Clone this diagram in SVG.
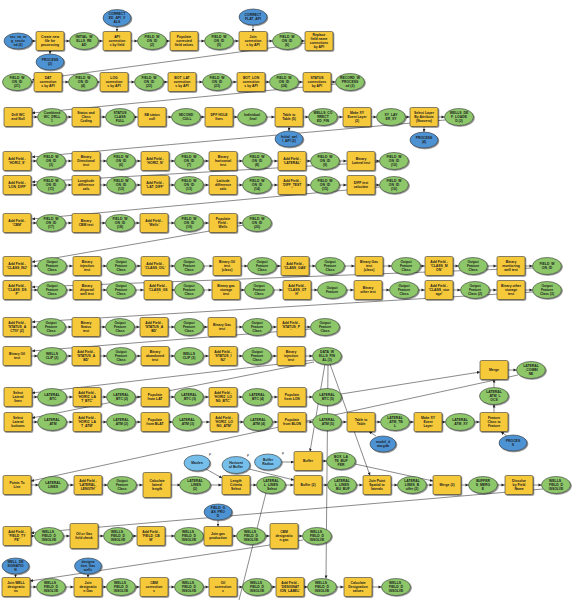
<svg xmlns="http://www.w3.org/2000/svg" width="574" height="600" viewBox="0 0 574 600">
<defs>
<filter id="s" x="-20%" y="-30%" width="150%" height="170%"><feDropShadow dx="0.9" dy="0.9" stdDeviation="0.45" flood-color="#000" flood-opacity="0.5"/></filter>
<marker id="a" markerUnits="userSpaceOnUse" markerWidth="4" markerHeight="3" refX="3" refY="1.5" orient="auto"><path d="M0,0L3,1.5L0,3z" fill="#222"/></marker>
<marker id="m" markerUnits="userSpaceOnUse" markerWidth="4" markerHeight="3" refX="17.5" refY="1.5" orient="auto" overflow="visible"><path d="M0,0L3,1.5L0,3z" fill="#222"/></marker>
</defs>
<style>
.t{fill:#f6c93a;stroke:#3b3b3b;stroke-width:.6;filter:url(#s)}
.g{fill:#8dc76b;stroke:#3b3b3b;stroke-width:.6;filter:url(#s)}
.b{fill:#4d93d3;stroke:#3b3b3b;stroke-width:.6;filter:url(#s)}
.lb{fill:#74bfea;stroke:#3b3b3b;stroke-width:.6;filter:url(#s)}
text{font-family:"Liberation Sans",Arial,sans-serif;font-size:3.4px;font-weight:bold;text-anchor:middle;fill:#1b1b1b}
.p{font-size:3px;font-weight:normal}
#conn path{fill:none;stroke:#2a2a2a;stroke-width:.55}
#conn .h{marker-end:url(#m)}
#conn .d{marker-end:url(#a)}
</style>
<rect width="574" height="600" fill="#fff"/>
<g id="conn">
<path class="h" d="M18 41H50"/><path class="h" d="M50 41H84"/><path class="h" d="M84 41H117"/><path class="h" d="M117 41H152"/><path class="h" d="M152 41H184"/><path class="h" d="M184 41H219"/><path class="h" d="M219 41H253"/><path class="h" d="M253 41H287"/><path class="h" d="M287 41H319"/>
<path class="h" d="M17 82H48"/><path class="h" d="M48 82H83"/><path class="h" d="M83 82H114"/><path class="h" d="M114 82H149"/><path class="h" d="M149 82H182"/><path class="h" d="M182 82H217"/><path class="h" d="M217 82H251"/><path class="h" d="M251 82H284"/><path class="h" d="M284 82H317"/><path class="h" d="M317 82H350"/>
<path class="h" d="M18 117H52"/><path class="h" d="M52 117H86"/><path class="h" d="M86 117H120"/><path class="h" d="M120 117H152"/><path class="h" d="M152 117H186"/><path class="h" d="M186 117H219"/><path class="h" d="M219 117H252"/><path class="h" d="M252 117H289"/><path class="h" d="M289 117H323"/><path class="h" d="M323 117H357"/><path class="h" d="M357 117H391"/><path class="h" d="M391 117H424"/><path class="h" d="M424 117H459"/>
<path class="h" d="M17 161H51"/><path class="h" d="M51 161H86"/><path class="h" d="M86 161H121"/><path class="h" d="M121 161H155"/><path class="h" d="M155 161H189"/><path class="h" d="M189 161H223"/><path class="h" d="M223 161H257"/><path class="h" d="M257 161H292"/><path class="h" d="M292 161H325"/><path class="h" d="M325 161H361"/><path class="h" d="M361 161H394"/>
<path class="h" d="M17 185H51"/><path class="h" d="M51 185H86"/><path class="h" d="M86 185H121"/><path class="h" d="M121 185H155"/><path class="h" d="M155 185H189"/><path class="h" d="M189 185H223"/><path class="h" d="M223 185H257"/><path class="h" d="M257 185H292"/><path class="h" d="M292 185H325"/><path class="h" d="M325 185H361"/><path class="h" d="M361 185H394"/>
<path class="h" d="M17 223H51"/><path class="h" d="M51 223H86"/><path class="h" d="M86 223H120"/><path class="h" d="M120 223H154"/><path class="h" d="M154 223H189"/><path class="h" d="M189 223H223"/><path class="h" d="M223 223H257"/>
<path class="h" d="M17 266H52"/><path class="h" d="M52 266H87"/><path class="h" d="M87 266H121"/><path class="h" d="M121 266H155"/><path class="h" d="M155 266H189"/><path class="h" d="M189 266H227"/><path class="h" d="M227 266H262"/><path class="h" d="M262 266H295"/><path class="h" d="M295 266H330"/><path class="h" d="M330 266H369"/><path class="h" d="M369 266H406"/><path class="h" d="M406 266H439"/><path class="h" d="M439 266H473"/><path class="h" d="M473 266H511"/><path class="h" d="M511 266H547"/>
<path class="h" d="M17 290H52"/><path class="h" d="M52 290H87"/><path class="h" d="M87 290H121"/><path class="h" d="M121 290H158"/><path class="h" d="M158 290H189"/><path class="h" d="M189 290H226"/><path class="h" d="M226 290H259"/><path class="h" d="M259 290H297"/><path class="h" d="M297 290H332"/><path class="h" d="M332 290H368"/><path class="h" d="M368 290H404"/><path class="h" d="M404 290H439"/><path class="h" d="M439 290H475"/><path class="h" d="M475 290H511"/><path class="h" d="M511 290H547"/>
<path class="h" d="M17 327H51"/><path class="h" d="M51 327H86"/><path class="h" d="M86 327H120"/><path class="h" d="M120 327H154"/><path class="h" d="M154 327H189"/><path class="h" d="M189 327H222"/><path class="h" d="M222 327H257"/><path class="h" d="M257 327H291"/><path class="h" d="M291 327H325"/>
<path class="h" d="M17 356H52"/><path class="h" d="M52 356H86"/><path class="h" d="M86 356H121"/><path class="h" d="M121 356H155"/><path class="h" d="M155 356H189"/><path class="h" d="M189 356H223"/><path class="h" d="M223 356H257"/><path class="h" d="M257 356H291"/><path class="h" d="M291 356H327"/>
<path class="h" d="M18 397H52"/><path class="h" d="M52 397H87"/><path class="h" d="M87 397H121"/><path class="h" d="M121 397H155"/><path class="h" d="M155 397H189"/><path class="h" d="M189 397H223"/><path class="h" d="M223 397H257"/><path class="h" d="M257 397H292"/><path class="h" d="M292 397H327"/>
<path class="h" d="M18 422H52"/><path class="h" d="M52 422H87"/><path class="h" d="M87 422H121"/><path class="h" d="M121 422H155"/><path class="h" d="M155 422H187"/><path class="h" d="M187 422H224"/><path class="h" d="M224 422H258"/><path class="h" d="M258 422H292"/><path class="h" d="M292 422H327"/><path class="h" d="M327 422H361"/><path class="h" d="M361 422H395"/><path class="h" d="M395 422H428"/><path class="h" d="M428 422H460"/><path class="h" d="M460 422H494"/>
<path class="h" d="M494 370H531"/>
<path class="h" d="M17 485H53"/><path class="h" d="M53 485H88"/><path class="h" d="M88 485H122"/><path class="h" d="M122 485H157"/><path class="h" d="M157 485H195"/><path class="h" d="M195 485H236"/><path class="h" d="M236 485H271"/><path class="h" d="M271 485H308"/><path class="h" d="M308 485H342"/><path class="h" d="M342 485H377"/><path class="h" d="M377 485H412"/><path class="h" d="M412 485H447"/><path class="h" d="M447 485H483"/><path class="h" d="M483 485H519"/><path class="h" d="M519 485H556"/>
<path class="h" d="M308 461H341"/>
<path class="h" d="M17 536H49"/><path class="h" d="M49 536H84"/><path class="h" d="M84 536H118"/><path class="h" d="M118 536H151"/><path class="h" d="M151 536H189"/><path class="h" d="M189 536H218"/><path class="h" d="M218 536H251"/><path class="h" d="M251 536H284"/><path class="h" d="M284 536H317"/>
<path class="h" d="M16 587H51"/><path class="h" d="M51 587H88"/><path class="h" d="M88 587H121"/><path class="h" d="M121 587H154"/><path class="h" d="M154 587H189"/><path class="h" d="M189 587H223"/><path class="h" d="M223 587H257"/><path class="h" d="M257 587H290"/><path class="h" d="M290 587H322"/><path class="h" d="M322 587H358"/><path class="h" d="M358 587H396"/>
<path class="d" d="M117 26.5V31.5"/><path class="d" d="M253 25V31.5"/><path class="d" d="M50 50.5V54"/>
<path class="d" d="M289 126.5V131"/><path class="d" d="M424 126.5V132"/>
<path class="d" d="M218 520V526.5"/><path class="d" d="M15.5 574V577.5"/><path class="d" d="M88 574V577.5"/>
<path class="d" d="M494 412.5V404.5"/><path class="d" d="M494 387.5V379.5"/>
<path class="d" d="M507 436L501 432"/><path class="d" d="M376 436L369 431.5"/>
<path class="d" d="M206 469L222 478"/><path class="d" d="M249 469L294 480"/><path class="d" d="M282 462H294"/>
<path class="d" d="M355 464L433 481"/>
<path class="d" d="M306 43L32 80"/>
<path class="d" d="M336 84L32 113"/>
<path class="d" d="M445 120L32 157"/>
<path class="d" d="M380 162L32 182"/>
<path class="d" d="M380 187L32 219"/>
<path class="d" d="M244 225L32 262"/>
<path class="d" d="M533 268L32 287"/>
<path class="d" d="M533 292L32 322"/>
<path class="d" d="M311 329L32 351"/>
<path class="d" d="M314 360L32 393"/>
<path class="d" d="M314 362L32 418"/>
<path class="d" d="M325 364L310 451.5"/>
<path class="d" d="M330 364L370 475.5"/>
<path class="d" d="M328 365L326 578.5"/>
<path class="d" d="M341 394L480 372"/>
<path class="d" d="M518 375L31 481"/>
<path class="d" d="M543 489L31 533"/>
<path class="d" d="M303 540L30 581"/>
<path d="M266 493L239 600"/>
</g>

<g id="r1">
<g id="n1_1"><ellipse class="b" cx="18" cy="41" rx="14" ry="8"/><text x="18" y="38.3"><tspan x="18">sec_tw_rn</tspan><tspan x="18" dy="3.9">g_sectio</tspan><tspan x="18" dy="3.9">nd (2)</tspan></text></g>
<g id="n1_2"><rect class="t" x="36" y="31.5" width="28" height="19" rx="1.5"/><text x="50" y="38.3"><tspan x="50">Create new</tspan><tspan x="50" dy="3.9">file for</tspan><tspan x="50" dy="3.9">processing</tspan></text></g>
<g id="n1_2b"><ellipse class="b" cx="50" cy="62" rx="14" ry="8"/><text x="50" y="61.25"><tspan x="50">PROCESS</tspan><tspan x="50" dy="3.9">(2)</tspan></text></g>
<g id="n1_3"><ellipse class="g" cx="84" cy="41" rx="14.5" ry="8.5"/><text x="84" y="38.3"><tspan x="84">INITIAL_W</tspan><tspan x="84" dy="3.9">ELLS_RE</tspan><tspan x="84" dy="3.9">AD</tspan></text></g>
<g id="n1_4"><rect class="t" x="103" y="31.5" width="28" height="19" rx="1.5"/><text x="117" y="38.3"><tspan x="117">API</tspan><tspan x="117" dy="3.9">correction</tspan><tspan x="117" dy="3.9">s by field</tspan></text></g>
<g id="n1_4b"><ellipse class="b" cx="117" cy="18" rx="14" ry="8.5"/><text x="117" y="15.3"><tspan x="117">CORRECT</tspan><tspan x="117" dy="3.9">ED_API_V</tspan><tspan x="117" dy="3.9">ALS</tspan></text></g>
<g id="n1_5"><ellipse class="g" cx="152" cy="41" rx="14.5" ry="8.5"/><text x="152" y="38.3"><tspan x="152">FIELD_W</tspan><tspan x="152" dy="3.9">ON_ID</tspan><tspan x="152" dy="3.9">(2)</tspan></text></g>
<g id="n1_6"><rect class="t" x="170" y="31.5" width="28" height="19" rx="1.5"/><text x="184" y="38.3"><tspan x="184">Populate</tspan><tspan x="184" dy="3.9">corrected</tspan><tspan x="184" dy="3.9">field values</tspan></text></g>
<g id="n1_7"><ellipse class="g" cx="219" cy="41" rx="14.5" ry="8.5"/><text x="219" y="38.3"><tspan x="219">FIELD_W</tspan><tspan x="219" dy="3.9">ON_ID</tspan><tspan x="219" dy="3.9">(5)</tspan></text></g>
<g id="n1_8"><rect class="t" x="239" y="31.5" width="28" height="19" rx="1.5"/><text x="253" y="38.3"><tspan x="253">Join</tspan><tspan x="253" dy="3.9">correction</tspan><tspan x="253" dy="3.9">s by API</tspan></text></g>
<g id="n1_8b"><ellipse class="b" cx="253" cy="17" rx="14" ry="8"/><text x="253" y="16.25"><tspan x="253">CORRECT</tspan><tspan x="253" dy="3.9">FLAT_API</tspan></text></g>
<g id="n1_9"><ellipse class="g" cx="287" cy="41" rx="14.5" ry="8.5"/><text x="287" y="38.3"><tspan x="287">FIELD_W</tspan><tspan x="287" dy="3.9">ON_ID</tspan><tspan x="287" dy="3.9">(6)</tspan></text></g>
<g id="n1_10"><rect class="t" x="305" y="31.5" width="28" height="19" rx="1.5"/><text x="319" y="36.35"><tspan x="319">Replace</tspan><tspan x="319" dy="3.9">field name</tspan><tspan x="319" dy="3.9">corrections</tspan><tspan x="319" dy="3.9">by API</tspan></text></g>
</g>

<g id="r2">
<g id="n2_1"><ellipse class="g" cx="17" cy="82" rx="14.5" ry="8.5"/><text x="17" y="79.3"><tspan x="17">FIELD_W</tspan><tspan x="17" dy="3.9">ON_ID</tspan><tspan x="17" dy="3.9">(21)</tspan></text></g>
<g id="n2_2"><rect class="t" x="34" y="72.5" width="28" height="19" rx="1.5"/><text x="48" y="79.3"><tspan x="48">DAT</tspan><tspan x="48" dy="3.9">correction</tspan><tspan x="48" dy="3.9">s by API</tspan></text></g>
<g id="n2_3"><ellipse class="g" cx="83" cy="82" rx="14.5" ry="8.5"/><text x="83" y="79.3"><tspan x="83">FIELD_W</tspan><tspan x="83" dy="3.9">ON_ID</tspan><tspan x="83" dy="3.9">(4)</tspan></text></g>
<g id="n2_4"><rect class="t" x="100" y="72.5" width="28" height="19" rx="1.5"/><text x="114" y="79.3"><tspan x="114">LOG</tspan><tspan x="114" dy="3.9">correction</tspan><tspan x="114" dy="3.9">s by API</tspan></text></g>
<g id="n2_5"><ellipse class="g" cx="149" cy="82" rx="14.5" ry="8.5"/><text x="149" y="79.3"><tspan x="149">FIELD_W</tspan><tspan x="149" dy="3.9">ON_ID</tspan><tspan x="149" dy="3.9">(22)</tspan></text></g>
<g id="n2_6"><rect class="t" x="168" y="72.5" width="28" height="19" rx="1.5"/><text x="182" y="79.3"><tspan x="182">BOT_LAT</tspan><tspan x="182" dy="3.9">correction</tspan><tspan x="182" dy="3.9">s by API</tspan></text></g>
<g id="n2_7"><ellipse class="g" cx="217" cy="82" rx="14.5" ry="8.5"/><text x="217" y="79.3"><tspan x="217">FIELD_W</tspan><tspan x="217" dy="3.9">ON_ID</tspan><tspan x="217" dy="3.9">(23)</tspan></text></g>
<g id="n2_8"><rect class="t" x="237" y="72.5" width="28" height="19" rx="1.5"/><text x="251" y="79.3"><tspan x="251">BOT_LON</tspan><tspan x="251" dy="3.9">correction</tspan><tspan x="251" dy="3.9">s by API</tspan></text></g>
<g id="n2_9"><ellipse class="g" cx="284" cy="82" rx="14.5" ry="8.5"/><text x="284" y="79.3"><tspan x="284">FIELD_W</tspan><tspan x="284" dy="3.9">ON_ID</tspan><tspan x="284" dy="3.9">(24)</tspan></text></g>
<g id="n2_10"><rect class="t" x="303" y="72.5" width="28" height="19" rx="1.5"/><text x="317" y="79.3"><tspan x="317">STATUS</tspan><tspan x="317" dy="3.9">corrections</tspan><tspan x="317" dy="3.9">by API</tspan></text></g>
<g id="n2_11"><ellipse class="g" cx="350" cy="82" rx="14.5" ry="8.5"/><text x="350" y="79.3"><tspan x="350">RECORD_W</tspan><tspan x="350" dy="3.9">PROCESS</tspan><tspan x="350" dy="3.9">ed (2)</tspan></text></g>
</g>

<g id="r3">
<g id="n3_1"><rect class="t" x="4" y="107.5" width="28" height="19" rx="1.5"/><text x="18" y="116.25"><tspan x="18">Drill WC</tspan><tspan x="18" dy="3.9">and Null</tspan></text></g>
<g id="n3_2"><ellipse class="g" cx="52" cy="117" rx="14.5" ry="8.5"/><text x="52" y="114.3"><tspan x="52">Combined</tspan><tspan x="52" dy="3.9">WC_DRLL</tspan><tspan x="52" dy="3.9">1</tspan></text></g>
<g id="n3_3"><rect class="t" x="72" y="107.5" width="28" height="19" rx="1.5"/><text x="86" y="114.3"><tspan x="86">Status and</tspan><tspan x="86" dy="3.9">Class</tspan><tspan x="86" dy="3.9">Coding</tspan></text></g>
<g id="n3_4"><ellipse class="g" cx="120" cy="117" rx="14.5" ry="8.5"/><text x="120" y="114.3"><tspan x="120">STATUS</tspan><tspan x="120" dy="3.9">CLASS</tspan><tspan x="120" dy="3.9">FULL</tspan></text></g>
<g id="n3_5"><rect class="t" x="138" y="107.5" width="28" height="19" rx="1.5"/><text x="152" y="116.25"><tspan x="152">SB status</tspan><tspan x="152" dy="3.9">cull</tspan></text></g>
<g id="n3_6"><ellipse class="g" cx="186" cy="117" rx="14.5" ry="8.5"/><text x="186" y="116.25"><tspan x="186">SECOND</tspan><tspan x="186" dy="3.9">_CULL</tspan></text></g>
<g id="n3_7"><rect class="t" x="205" y="107.5" width="28" height="19" rx="1.5"/><text x="219" y="116.25"><tspan x="219">DPF HOLE</tspan><tspan x="219" dy="3.9">fixes</tspan></text></g>
<g id="n3_8"><ellipse class="g" cx="252" cy="117" rx="14.5" ry="8.5"/><text x="252" y="116.25"><tspan x="252">Individual</tspan><tspan x="252" dy="3.9">_final</tspan></text></g>
<g id="n3_9"><rect class="t" x="275" y="107.5" width="28" height="19" rx="1.5"/><text x="289" y="116.25"><tspan x="289">Table to</tspan><tspan x="289" dy="3.9">Table (5)</tspan></text></g>
<g id="n3_9b"><ellipse class="b" cx="289" cy="139" rx="14" ry="8"/><text x="289" y="138.25"><tspan x="289">Initial_wel</tspan><tspan x="289" dy="3.9">l_API (2)</tspan></text></g>
<g id="n3_10"><ellipse class="g" cx="323" cy="117" rx="14.5" ry="8.5"/><text x="323" y="114.3"><tspan x="323">WELLS_CO</tspan><tspan x="323" dy="3.9">RRECT</tspan><tspan x="323" dy="3.9">ED_FIN</tspan></text></g>
<g id="n3_11"><rect class="t" x="343" y="107.5" width="28" height="19" rx="1.5"/><text x="357" y="114.3"><tspan x="357">Make XY</tspan><tspan x="357" dy="3.9">Event Layer</tspan><tspan x="357" dy="3.9">(2)</tspan></text></g>
<g id="n3_12"><ellipse class="g" cx="391" cy="117" rx="14.5" ry="8.5"/><text x="391" y="116.25"><tspan x="391">XY_LAY</tspan><tspan x="391" dy="3.9">ER_XY</tspan></text></g>
<g id="n3_13"><rect class="t" x="410" y="107.5" width="28" height="19" rx="1.5"/><text x="424" y="114.3"><tspan x="424">Select Layer</tspan><tspan x="424" dy="3.9">By Attribute</tspan><tspan x="424" dy="3.9">(Nonzero)</tspan></text></g>
<g id="n3_13b"><ellipse class="b" cx="424" cy="140" rx="14" ry="8"/><text x="424" y="139.25"><tspan x="424">PROCESS</tspan><tspan x="424" dy="3.9">(4)</tspan></text></g>
<g id="n3_14"><ellipse class="g" cx="459" cy="117" rx="14.5" ry="8.5"/><text x="459" y="114.3"><tspan x="459">WELLS_DE</tspan><tspan x="459" dy="3.9">F_LOADE</tspan><tspan x="459" dy="3.9">D (2)</tspan></text></g>
</g>

<g id="r4">
<g id="n4_1"><rect class="t" x="3" y="151.5" width="28" height="19" rx="1.5"/><text x="17" y="160.25"><tspan x="17">Add Field -</tspan><tspan x="17" dy="3.9">'HORIZ_S'</tspan></text></g>
<g id="n4_2"><ellipse class="g" cx="51" cy="161" rx="14.5" ry="8.5"/><text x="51" y="158.3"><tspan x="51">FIELD_W</tspan><tspan x="51" dy="3.9">ON_ID</tspan><tspan x="51" dy="3.9">(3)</tspan></text></g>
<g id="n4_3"><rect class="t" x="72" y="151.5" width="28" height="19" rx="1.5"/><text x="86" y="158.3"><tspan x="86">Binary</tspan><tspan x="86" dy="3.9">Directional</tspan><tspan x="86" dy="3.9">test</tspan></text></g>
<g id="n4_4"><ellipse class="g" cx="121" cy="161" rx="14.5" ry="8.5"/><text x="121" y="158.3"><tspan x="121">FIELD_W</tspan><tspan x="121" dy="3.9">ON_ID</tspan><tspan x="121" dy="3.9">(6)</tspan></text></g>
<g id="n4_5"><rect class="t" x="141" y="151.5" width="28" height="19" rx="1.5"/><text x="155" y="160.25"><tspan x="155">Add Field -</tspan><tspan x="155" dy="3.9">'HORIZ_N'</tspan></text></g>
<g id="n4_6"><ellipse class="g" cx="189" cy="161" rx="14.5" ry="8.5"/><text x="189" y="158.3"><tspan x="189">FIELD_W</tspan><tspan x="189" dy="3.9">ON_ID</tspan><tspan x="189" dy="3.9">(7)</tspan></text></g>
<g id="n4_7"><rect class="t" x="209" y="151.5" width="28" height="19" rx="1.5"/><text x="223" y="158.3"><tspan x="223">Binary</tspan><tspan x="223" dy="3.9">horizontal</tspan><tspan x="223" dy="3.9">test</tspan></text></g>
<g id="n4_8"><ellipse class="g" cx="257" cy="161" rx="14.5" ry="8.5"/><text x="257" y="158.3"><tspan x="257">FIELD_W</tspan><tspan x="257" dy="3.9">ON_ID</tspan><tspan x="257" dy="3.9">(8)</tspan></text></g>
<g id="n4_9"><rect class="t" x="278" y="151.5" width="28" height="19" rx="1.5"/><text x="292" y="160.25"><tspan x="292">Add Field -</tspan><tspan x="292" dy="3.9">'LATERAL'</tspan></text></g>
<g id="n4_10"><ellipse class="g" cx="325" cy="161" rx="14.5" ry="8.5"/><text x="325" y="158.3"><tspan x="325">FIELD_W</tspan><tspan x="325" dy="3.9">ON_ID</tspan><tspan x="325" dy="3.9">(9)</tspan></text></g>
<g id="n4_11"><rect class="t" x="347" y="151.5" width="28" height="19" rx="1.5"/><text x="361" y="160.25"><tspan x="361">Binary</tspan><tspan x="361" dy="3.9">Lateral test</tspan></text></g>
<g id="n4_12"><ellipse class="g" cx="394" cy="161" rx="14.5" ry="8.5"/><text x="394" y="158.3"><tspan x="394">FIELD_W</tspan><tspan x="394" dy="3.9">ON_ID</tspan><tspan x="394" dy="3.9">(10)</tspan></text></g>
</g>

<g id="r5">
<g id="n5_1"><rect class="t" x="3" y="175.5" width="28" height="19" rx="1.5"/><text x="17" y="184.25"><tspan x="17">Add Field -</tspan><tspan x="17" dy="3.9">'LON_DIFF'</tspan></text></g>
<g id="n5_2"><ellipse class="g" cx="51" cy="185" rx="14.5" ry="8.5"/><text x="51" y="182.3"><tspan x="51">FIELD_W</tspan><tspan x="51" dy="3.9">ON_ID</tspan><tspan x="51" dy="3.9">(11)</tspan></text></g>
<g id="n5_3"><rect class="t" x="72" y="175.5" width="28" height="19" rx="1.5"/><text x="86" y="182.3"><tspan x="86">Longitude</tspan><tspan x="86" dy="3.9">difference</tspan><tspan x="86" dy="3.9">calc</tspan></text></g>
<g id="n5_4"><ellipse class="g" cx="121" cy="185" rx="14.5" ry="8.5"/><text x="121" y="182.3"><tspan x="121">FIELD_W</tspan><tspan x="121" dy="3.9">ON_ID</tspan><tspan x="121" dy="3.9">(12)</tspan></text></g>
<g id="n5_5"><rect class="t" x="141" y="175.5" width="28" height="19" rx="1.5"/><text x="155" y="184.25"><tspan x="155">Add Field -</tspan><tspan x="155" dy="3.9">'LAT_DIFF'</tspan></text></g>
<g id="n5_6"><ellipse class="g" cx="189" cy="185" rx="14.5" ry="8.5"/><text x="189" y="182.3"><tspan x="189">FIELD_W</tspan><tspan x="189" dy="3.9">ON_ID</tspan><tspan x="189" dy="3.9">(13)</tspan></text></g>
<g id="n5_7"><rect class="t" x="209" y="175.5" width="28" height="19" rx="1.5"/><text x="223" y="182.3"><tspan x="223">Latitude</tspan><tspan x="223" dy="3.9">difference</tspan><tspan x="223" dy="3.9">calc</tspan></text></g>
<g id="n5_8"><ellipse class="g" cx="257" cy="185" rx="14.5" ry="8.5"/><text x="257" y="182.3"><tspan x="257">FIELD_W</tspan><tspan x="257" dy="3.9">ON_ID</tspan><tspan x="257" dy="3.9">(14)</tspan></text></g>
<g id="n5_9"><rect class="t" x="278" y="175.5" width="28" height="19" rx="1.5"/><text x="292" y="182.3"><tspan x="292">Add Field -</tspan><tspan x="292" dy="3.9">'DIFF_TEST</tspan><tspan x="292" dy="3.9">'</tspan></text></g>
<g id="n5_10"><ellipse class="g" cx="325" cy="185" rx="14.5" ry="8.5"/><text x="325" y="182.3"><tspan x="325">FIELD_W</tspan><tspan x="325" dy="3.9">ON_ID</tspan><tspan x="325" dy="3.9">(15)</tspan></text></g>
<g id="n5_11"><rect class="t" x="347" y="175.5" width="28" height="19" rx="1.5"/><text x="361" y="184.25"><tspan x="361">DIFF test</tspan><tspan x="361" dy="3.9">calculate</tspan></text></g>
<g id="n5_12"><ellipse class="g" cx="394" cy="185" rx="14.5" ry="8.5"/><text x="394" y="182.3"><tspan x="394">FIELD_W</tspan><tspan x="394" dy="3.9">ON_ID</tspan><tspan x="394" dy="3.9">(16)</tspan></text></g>
</g>

<g id="r6">
<g id="n6_1"><rect class="t" x="3" y="213.5" width="28" height="19" rx="1.5"/><text x="17" y="222.25"><tspan x="17">Add Field -</tspan><tspan x="17" dy="3.9">'CBM'</tspan></text></g>
<g id="n6_2"><ellipse class="g" cx="51" cy="223" rx="14.5" ry="8.5"/><text x="51" y="220.3"><tspan x="51">FIELD_W</tspan><tspan x="51" dy="3.9">ON_ID</tspan><tspan x="51" dy="3.9">(17)</tspan></text></g>
<g id="n6_3"><rect class="t" x="72" y="213.5" width="28" height="19" rx="1.5"/><text x="86" y="222.25"><tspan x="86">Binary</tspan><tspan x="86" dy="3.9">CBM test</tspan></text></g>
<g id="n6_4"><ellipse class="g" cx="120" cy="223" rx="14.5" ry="8.5"/><text x="120" y="220.3"><tspan x="120">FIELD_W</tspan><tspan x="120" dy="3.9">ON_ID</tspan><tspan x="120" dy="3.9">(18)</tspan></text></g>
<g id="n6_5"><rect class="t" x="140" y="213.5" width="28" height="19" rx="1.5"/><text x="154" y="222.25"><tspan x="154">Add Field -</tspan><tspan x="154" dy="3.9">'Wells'</tspan></text></g>
<g id="n6_6"><ellipse class="g" cx="189" cy="223" rx="14.5" ry="8.5"/><text x="189" y="220.3"><tspan x="189">FIELD_W</tspan><tspan x="189" dy="3.9">ON_ID</tspan><tspan x="189" dy="3.9">(19)</tspan></text></g>
<g id="n6_7"><rect class="t" x="209" y="213.5" width="28" height="19" rx="1.5"/><text x="223" y="220.3"><tspan x="223">Populate</tspan><tspan x="223" dy="3.9">Field -</tspan><tspan x="223" dy="3.9">Wells</tspan></text></g>
<g id="n6_8"><ellipse class="g" cx="257" cy="223" rx="14.5" ry="8.5"/><text x="257" y="220.3"><tspan x="257">FIELD_W</tspan><tspan x="257" dy="3.9">ON_ID</tspan><tspan x="257" dy="3.9">(20)</tspan></text></g>
</g>

<g id="r7">
<g id="n7_1"><rect class="t" x="3" y="256.5" width="28" height="19" rx="1.5"/><text x="17" y="265.25"><tspan x="17">Add Field -</tspan><tspan x="17" dy="3.9">'CLASS_INJ'</tspan></text></g>
<g id="n7_2"><ellipse class="g" cx="52" cy="266" rx="14.5" ry="8.5"/><text x="52" y="263.3"><tspan x="52">Output</tspan><tspan x="52" dy="3.9">Feature</tspan><tspan x="52" dy="3.9">Class</tspan></text></g>
<g id="n7_3"><rect class="t" x="73" y="256.5" width="28" height="19" rx="1.5"/><text x="87" y="263.3"><tspan x="87">Binary</tspan><tspan x="87" dy="3.9">injection</tspan><tspan x="87" dy="3.9">test</tspan></text></g>
<g id="n7_4"><ellipse class="g" cx="121" cy="266" rx="14.5" ry="8.5"/><text x="121" y="263.3"><tspan x="121">Output</tspan><tspan x="121" dy="3.9">Feature</tspan><tspan x="121" dy="3.9">Class</tspan></text></g>
<g id="n7_5"><rect class="t" x="141" y="256.5" width="28" height="19" rx="1.5"/><text x="155" y="265.25"><tspan x="155">Add Field -</tspan><tspan x="155" dy="3.9">'CLASS_OIL'</tspan></text></g>
<g id="n7_6"><ellipse class="g" cx="189" cy="266" rx="14.5" ry="8.5"/><text x="189" y="263.3"><tspan x="189">Output</tspan><tspan x="189" dy="3.9">Feature</tspan><tspan x="189" dy="3.9">Class</tspan></text></g>
<g id="n7_7"><rect class="t" x="213" y="256.5" width="28" height="19" rx="1.5"/><text x="227" y="263.3"><tspan x="227">Binary Oil</tspan><tspan x="227" dy="3.9">test</tspan><tspan x="227" dy="3.9">(class)</tspan></text></g>
<g id="n7_8"><ellipse class="g" cx="262" cy="266" rx="14.5" ry="8.5"/><text x="262" y="263.3"><tspan x="262">Output</tspan><tspan x="262" dy="3.9">Feature</tspan><tspan x="262" dy="3.9">Class</tspan></text></g>
<g id="n7_9"><rect class="t" x="281" y="256.5" width="28" height="19" rx="1.5"/><text x="295" y="265.25"><tspan x="295">Add Field -</tspan><tspan x="295" dy="3.9">'CLASS_GAS'</tspan></text></g>
<g id="n7_10"><ellipse class="g" cx="330" cy="266" rx="14.5" ry="8.5"/><text x="330" y="263.3"><tspan x="330">Output</tspan><tspan x="330" dy="3.9">Feature</tspan><tspan x="330" dy="3.9">Class</tspan></text></g>
<g id="n7_11"><rect class="t" x="355" y="256.5" width="28" height="19" rx="1.5"/><text x="369" y="263.3"><tspan x="369">Binary Gas</tspan><tspan x="369" dy="3.9">test</tspan><tspan x="369" dy="3.9">(class)</tspan></text></g>
<g id="n7_12"><ellipse class="g" cx="406" cy="266" rx="14.5" ry="8.5"/><text x="406" y="263.3"><tspan x="406">Output</tspan><tspan x="406" dy="3.9">Feature</tspan><tspan x="406" dy="3.9">Class</tspan></text></g>
<g id="n7_13"><rect class="t" x="425" y="256.5" width="28" height="19" rx="1.5"/><text x="439" y="263.3"><tspan x="439">Add Field -</tspan><tspan x="439" dy="3.9">'CLASS_M</tspan><tspan x="439" dy="3.9">ON'</tspan></text></g>
<g id="n7_14"><ellipse class="g" cx="473" cy="266" rx="14.5" ry="8.5"/><text x="473" y="263.3"><tspan x="473">Output</tspan><tspan x="473" dy="3.9">Feature</tspan><tspan x="473" dy="3.9">Class</tspan></text></g>
<g id="n7_15"><rect class="t" x="497" y="256.5" width="28" height="19" rx="1.5"/><text x="511" y="263.3"><tspan x="511">Binary</tspan><tspan x="511" dy="3.9">monitoring</tspan><tspan x="511" dy="3.9">well test</tspan></text></g>
<g id="n7_16"><ellipse class="g" cx="547" cy="266" rx="14.5" ry="8.5"/><text x="547" y="265.25"><tspan x="547">FIELD_W</tspan><tspan x="547" dy="3.9">ON_ID</tspan></text></g>
</g>

<g id="r8">
<g id="n8_1"><rect class="t" x="3" y="280.5" width="28" height="19" rx="1.5"/><text x="17" y="287.3"><tspan x="17">Add Field -</tspan><tspan x="17" dy="3.9">'CLASS_DS</tspan><tspan x="17" dy="3.9">P'</tspan></text></g>
<g id="n8_2"><ellipse class="g" cx="52" cy="290" rx="14.5" ry="8.5"/><text x="52" y="287.3"><tspan x="52">Output</tspan><tspan x="52" dy="3.9">Feature</tspan><tspan x="52" dy="3.9">Class</tspan></text></g>
<g id="n8_3"><rect class="t" x="73" y="280.5" width="28" height="19" rx="1.5"/><text x="87" y="287.3"><tspan x="87">Binary</tspan><tspan x="87" dy="3.9">disposal</tspan><tspan x="87" dy="3.9">well test</tspan></text></g>
<g id="n8_4"><ellipse class="g" cx="121" cy="290" rx="14.5" ry="8.5"/><text x="121" y="287.3"><tspan x="121">Output</tspan><tspan x="121" dy="3.9">Feature</tspan><tspan x="121" dy="3.9">Class</tspan></text></g>
<g id="n8_5"><rect class="t" x="144" y="280.5" width="28" height="19" rx="1.5"/><text x="158" y="287.3"><tspan x="158">Add Field -</tspan><tspan x="158" dy="3.9">'CLASS_GS</tspan><tspan x="158" dy="3.9">'</tspan></text></g>
<g id="n8_6"><ellipse class="g" cx="189" cy="290" rx="14.5" ry="8.5"/><text x="189" y="287.3"><tspan x="189">Output</tspan><tspan x="189" dy="3.9">Feature</tspan><tspan x="189" dy="3.9">Class</tspan></text></g>
<g id="n8_7"><rect class="t" x="212" y="280.5" width="28" height="19" rx="1.5"/><text x="226" y="287.3"><tspan x="226">Binary gas</tspan><tspan x="226" dy="3.9">storage</tspan><tspan x="226" dy="3.9">test</tspan></text></g>
<g id="n8_8"><ellipse class="g" cx="259" cy="290" rx="14.5" ry="8.5"/><text x="259" y="287.3"><tspan x="259">Output</tspan><tspan x="259" dy="3.9">Feature</tspan><tspan x="259" dy="3.9">Class</tspan></text></g>
<g id="n8_9"><rect class="t" x="283" y="280.5" width="28" height="19" rx="1.5"/><text x="297" y="287.3"><tspan x="297">Add Field -</tspan><tspan x="297" dy="3.9">'CLASS_OT</tspan><tspan x="297" dy="3.9">H'</tspan></text></g>
<g id="n8_10"><ellipse class="g" cx="332" cy="290" rx="14.5" ry="8.5"/><text x="332" y="289.25"><tspan x="332">Output</tspan><tspan x="332" dy="3.9">Feature</tspan></text></g>
<g id="n8_11"><rect class="t" x="354" y="280.5" width="28" height="19" rx="1.5"/><text x="368" y="289.25"><tspan x="368">Binary</tspan><tspan x="368" dy="3.9">other test</tspan></text></g>
<g id="n8_12"><ellipse class="g" cx="404" cy="290" rx="14.5" ry="8.5"/><text x="404" y="287.3"><tspan x="404">Output</tspan><tspan x="404" dy="3.9">Feature</tspan><tspan x="404" dy="3.9">Class</tspan></text></g>
<g id="n8_13"><rect class="t" x="425" y="280.5" width="28" height="19" rx="1.5"/><text x="439" y="287.3"><tspan x="439">Add Field -</tspan><tspan x="439" dy="3.9">'CLASS_stor</tspan><tspan x="439" dy="3.9">age'</tspan></text></g>
<g id="n8_14"><ellipse class="g" cx="475" cy="290" rx="14.5" ry="8.5"/><text x="475" y="287.3"><tspan x="475">Output</tspan><tspan x="475" dy="3.9">Feature</tspan><tspan x="475" dy="3.9">Class (2)</tspan></text></g>
<g id="n8_15"><rect class="t" x="497" y="280.5" width="28" height="19" rx="1.5"/><text x="511" y="287.3"><tspan x="511">Binary other</tspan><tspan x="511" dy="3.9">storage</tspan><tspan x="511" dy="3.9">test</tspan></text></g>
<g id="n8_16"><ellipse class="g" cx="547" cy="290" rx="14.5" ry="8.5"/><text x="547" y="287.3"><tspan x="547">Output</tspan><tspan x="547" dy="3.9">Feature</tspan><tspan x="547" dy="3.9">Class (3)</tspan></text></g>
</g>

<g id="r9">
<g id="n9_1"><rect class="t" x="3" y="317.5" width="28" height="19" rx="1.5"/><text x="17" y="324.3"><tspan x="17">Add Field -</tspan><tspan x="17" dy="3.9">'STATUS_A</tspan><tspan x="17" dy="3.9">CTIV' (2)</tspan></text></g>
<g id="n9_2"><ellipse class="g" cx="51" cy="327" rx="14.5" ry="8.5"/><text x="51" y="324.3"><tspan x="51">Output</tspan><tspan x="51" dy="3.9">Feature</tspan><tspan x="51" dy="3.9">Class</tspan></text></g>
<g id="n9_3"><rect class="t" x="72" y="317.5" width="28" height="19" rx="1.5"/><text x="86" y="324.3"><tspan x="86">Binary</tspan><tspan x="86" dy="3.9">Status</tspan><tspan x="86" dy="3.9">test</tspan></text></g>
<g id="n9_4"><ellipse class="g" cx="120" cy="327" rx="14.5" ry="8.5"/><text x="120" y="324.3"><tspan x="120">Output</tspan><tspan x="120" dy="3.9">Feature</tspan><tspan x="120" dy="3.9">Class</tspan></text></g>
<g id="n9_5"><rect class="t" x="140" y="317.5" width="28" height="19" rx="1.5"/><text x="154" y="324.3"><tspan x="154">Add Field -</tspan><tspan x="154" dy="3.9">'STATUS_A</tspan><tspan x="154" dy="3.9">BD'</tspan></text></g>
<g id="n9_6"><ellipse class="g" cx="189" cy="327" rx="14.5" ry="8.5"/><text x="189" y="324.3"><tspan x="189">Output</tspan><tspan x="189" dy="3.9">Feature</tspan><tspan x="189" dy="3.9">Class</tspan></text></g>
<g id="n9_7"><rect class="t" x="208" y="317.5" width="28" height="19" rx="1.5"/><text x="222" y="326.25"><tspan x="222">Binary Gas</tspan><tspan x="222" dy="3.9">test</tspan></text></g>
<g id="n9_8"><ellipse class="g" cx="257" cy="327" rx="14.5" ry="8.5"/><text x="257" y="324.3"><tspan x="257">Output</tspan><tspan x="257" dy="3.9">Feature</tspan><tspan x="257" dy="3.9">Class</tspan></text></g>
<g id="n9_9"><rect class="t" x="277" y="317.5" width="28" height="19" rx="1.5"/><text x="291" y="324.3"><tspan x="291">Add Field -</tspan><tspan x="291" dy="3.9">'STATUS_P</tspan><tspan x="291" dy="3.9">'</tspan></text></g>
<g id="n9_10"><ellipse class="g" cx="325" cy="327" rx="14.5" ry="8.5"/><text x="325" y="324.3"><tspan x="325">Output</tspan><tspan x="325" dy="3.9">Feature</tspan><tspan x="325" dy="3.9">Class</tspan></text></g>
</g>

<g id="r10">
<g id="n10_1"><rect class="t" x="3" y="346.5" width="28" height="19" rx="1.5"/><text x="17" y="355.25"><tspan x="17">Binary Oil</tspan><tspan x="17" dy="3.9">test</tspan></text></g>
<g id="n10_2"><ellipse class="g" cx="52" cy="356" rx="14.5" ry="8.5"/><text x="52" y="355.25"><tspan x="52">WELLS</tspan><tspan x="52" dy="3.9">CLIP (2)</tspan></text></g>
<g id="n10_3"><rect class="t" x="72" y="346.5" width="28" height="19" rx="1.5"/><text x="86" y="353.3"><tspan x="86">Add Field -</tspan><tspan x="86" dy="3.9">'STATUS_A</tspan><tspan x="86" dy="3.9">BD'</tspan></text></g>
<g id="n10_4"><ellipse class="g" cx="121" cy="356" rx="14.5" ry="8.5"/><text x="121" y="353.3"><tspan x="121">Output</tspan><tspan x="121" dy="3.9">Feature</tspan><tspan x="121" dy="3.9">Class</tspan></text></g>
<g id="n10_5"><rect class="t" x="141" y="346.5" width="28" height="19" rx="1.5"/><text x="155" y="353.3"><tspan x="155">Binary</tspan><tspan x="155" dy="3.9">abandoned</tspan><tspan x="155" dy="3.9">test</tspan></text></g>
<g id="n10_6"><ellipse class="g" cx="189" cy="356" rx="14.5" ry="8.5"/><text x="189" y="355.25"><tspan x="189">WELLS</tspan><tspan x="189" dy="3.9">CLIP (3)</tspan></text></g>
<g id="n10_7"><rect class="t" x="209" y="346.5" width="28" height="19" rx="1.5"/><text x="223" y="353.3"><tspan x="223">Add Field -</tspan><tspan x="223" dy="3.9">'STATUS_I</tspan><tspan x="223" dy="3.9">NJ'</tspan></text></g>
<g id="n10_8"><ellipse class="g" cx="257" cy="356" rx="14.5" ry="8.5"/><text x="257" y="353.3"><tspan x="257">Output</tspan><tspan x="257" dy="3.9">Feature</tspan><tspan x="257" dy="3.9">Class</tspan></text></g>
<g id="n10_9"><rect class="t" x="277" y="346.5" width="28" height="19" rx="1.5"/><text x="291" y="353.3"><tspan x="291">Binary</tspan><tspan x="291" dy="3.9">injection</tspan><tspan x="291" dy="3.9">test</tspan></text></g>
<g id="n10_10"><ellipse class="g" cx="327" cy="356" rx="14.5" ry="8.5"/><text x="327" y="353.3"><tspan x="327">DATA_W</tspan><tspan x="327" dy="3.9">ELLS_FIN</tspan><tspan x="327" dy="3.9">AL (3)</tspan></text></g>
</g>

<g id="r11">
<g id="n11_1"><rect class="t" x="4" y="387.5" width="28" height="19" rx="1.5"/><text x="18" y="394.3"><tspan x="18">Select</tspan><tspan x="18" dy="3.9">Lateral</tspan><tspan x="18" dy="3.9">lines</tspan></text></g>
<g id="n11_2"><ellipse class="g" cx="52" cy="397" rx="14.5" ry="8.5"/><text x="52" y="396.25"><tspan x="52">LATERAL</tspan><tspan x="52" dy="3.9">_BTC</tspan></text></g>
<g id="n11_3"><rect class="t" x="73" y="387.5" width="28" height="19" rx="1.5"/><text x="87" y="394.3"><tspan x="87">Add Field -</tspan><tspan x="87" dy="3.9">'HORIZ_LA</tspan><tspan x="87" dy="3.9">T_BTC'</tspan></text></g>
<g id="n11_4"><ellipse class="g" cx="121" cy="397" rx="14.5" ry="8.5"/><text x="121" y="396.25"><tspan x="121">LATERAL</tspan><tspan x="121" dy="3.9">_BTC (2)</tspan></text></g>
<g id="n11_5"><rect class="t" x="141" y="387.5" width="28" height="19" rx="1.5"/><text x="155" y="396.25"><tspan x="155">Populate</tspan><tspan x="155" dy="3.9">from LAT</tspan></text></g>
<g id="n11_6"><ellipse class="g" cx="189" cy="397" rx="14.5" ry="8.5"/><text x="189" y="396.25"><tspan x="189">LATERAL</tspan><tspan x="189" dy="3.9">_BTC (3)</tspan></text></g>
<g id="n11_7"><rect class="t" x="209" y="387.5" width="28" height="19" rx="1.5"/><text x="223" y="394.3"><tspan x="223">Add Field -</tspan><tspan x="223" dy="3.9">'HORIZ_LO</tspan><tspan x="223" dy="3.9">NG_BTC'</tspan></text></g>
<g id="n11_8"><ellipse class="g" cx="257" cy="397" rx="14.5" ry="8.5"/><text x="257" y="396.25"><tspan x="257">LATERAL</tspan><tspan x="257" dy="3.9">_BTC (4)</tspan></text></g>
<g id="n11_9"><rect class="t" x="278" y="387.5" width="28" height="19" rx="1.5"/><text x="292" y="396.25"><tspan x="292">Populate</tspan><tspan x="292" dy="3.9">from LON</tspan></text></g>
<g id="n11_10"><ellipse class="g" cx="327" cy="397" rx="14.5" ry="8.5"/><text x="327" y="396.25"><tspan x="327">LATERAL</tspan><tspan x="327" dy="3.9">_BTC (5)</tspan></text></g>
</g>

<g id="r12">
<g id="n12_1"><rect class="t" x="4" y="412.5" width="28" height="19" rx="1.5"/><text x="18" y="419.3"><tspan x="18">Select</tspan><tspan x="18" dy="3.9">Lateral</tspan><tspan x="18" dy="3.9">bottoms</tspan></text></g>
<g id="n12_2"><ellipse class="g" cx="52" cy="422" rx="14.5" ry="8.5"/><text x="52" y="421.25"><tspan x="52">LATERAL</tspan><tspan x="52" dy="3.9">_ATM</tspan></text></g>
<g id="n12_3"><rect class="t" x="73" y="412.5" width="28" height="19" rx="1.5"/><text x="87" y="419.3"><tspan x="87">Add Field -</tspan><tspan x="87" dy="3.9">'HORIZ_LA</tspan><tspan x="87" dy="3.9">T_ATM'</tspan></text></g>
<g id="n12_4"><ellipse class="g" cx="121" cy="422" rx="14.5" ry="8.5"/><text x="121" y="421.25"><tspan x="121">LATERAL</tspan><tspan x="121" dy="3.9">_ATM (2)</tspan></text></g>
<g id="n12_5"><rect class="t" x="141" y="412.5" width="28" height="19" rx="1.5"/><text x="155" y="421.25"><tspan x="155">Populate</tspan><tspan x="155" dy="3.9">from BLAT</tspan></text></g>
<g id="n12_6"><ellipse class="g" cx="187" cy="422" rx="14.5" ry="8.5"/><text x="187" y="421.25"><tspan x="187">LATERAL</tspan><tspan x="187" dy="3.9">_ATM (3)</tspan></text></g>
<g id="n12_7"><rect class="t" x="210" y="412.5" width="28" height="19" rx="1.5"/><text x="224" y="419.3"><tspan x="224">Add Field -</tspan><tspan x="224" dy="3.9">'HORIZ_LO</tspan><tspan x="224" dy="3.9">NG_ATM'</tspan></text></g>
<g id="n12_8"><ellipse class="g" cx="258" cy="422" rx="14.5" ry="8.5"/><text x="258" y="421.25"><tspan x="258">LATERAL</tspan><tspan x="258" dy="3.9">_ATM (4)</tspan></text></g>
<g id="n12_9"><rect class="t" x="278" y="412.5" width="28" height="19" rx="1.5"/><text x="292" y="421.25"><tspan x="292">Populate</tspan><tspan x="292" dy="3.9">from BLON</tspan></text></g>
<g id="n12_10"><ellipse class="g" cx="327" cy="422" rx="14.5" ry="8.5"/><text x="327" y="421.25"><tspan x="327">LATERAL</tspan><tspan x="327" dy="3.9">_ATM (5)</tspan></text></g>
<g id="n12_11"><rect class="t" x="347" y="412.5" width="28" height="19" rx="1.5"/><text x="361" y="421.25"><tspan x="361">Table to</tspan><tspan x="361" dy="3.9">Table</tspan></text></g>
<g id="n12_11b"><ellipse class="b" cx="383" cy="444" rx="13" ry="8"/><text x="383" y="443.25"><tspan x="383">model_d</tspan><tspan x="383" dy="3.9">ata.gdb</tspan></text></g>
<g id="n12_12"><ellipse class="g" cx="395" cy="422" rx="14.5" ry="8.5"/><text x="395" y="419.3"><tspan x="395">LATERAL</tspan><tspan x="395" dy="3.9">_ATM_TB</tspan><tspan x="395" dy="3.9">L</tspan></text></g>
<g id="n12_13"><rect class="t" x="414" y="412.5" width="28" height="19" rx="1.5"/><text x="428" y="419.3"><tspan x="428">Make XY</tspan><tspan x="428" dy="3.9">Event</tspan><tspan x="428" dy="3.9">Layer</tspan></text></g>
<g id="n12_14"><ellipse class="g" cx="460" cy="422" rx="14.5" ry="8.5"/><text x="460" y="421.25"><tspan x="460">LATERAL</tspan><tspan x="460" dy="3.9">_ATM_XY</tspan></text></g>
<g id="n12_15"><rect class="t" x="480" y="412.5" width="28" height="19" rx="1.5"/><text x="494" y="419.3"><tspan x="494">Feature</tspan><tspan x="494" dy="3.9">Class to</tspan><tspan x="494" dy="3.9">Feature</tspan></text></g>
<g id="n12_15b"><ellipse class="b" cx="513" cy="443" rx="14" ry="8"/><text x="513" y="442.25"><tspan x="513">PROCES</tspan><tspan x="513" dy="3.9">S</tspan></text></g>
<g id="n12_16"><ellipse class="g" cx="494" cy="396" rx="14.5" ry="8.5"/><text x="494" y="393.3"><tspan x="494">LATERAL</tspan><tspan x="494" dy="3.9">_ATM_L</tspan><tspan x="494" dy="3.9">OCS</tspan></text></g>
<g id="n12_17"><rect class="t" x="480" y="360.5" width="28" height="19" rx="1.5"/><text x="494" y="371.2">Merge</text></g>
<g id="n12_18"><ellipse class="g" cx="531" cy="370" rx="14.5" ry="8.5"/><text x="531" y="367.3"><tspan x="531">LATERAL</tspan><tspan x="531" dy="3.9">_COMBI</tspan><tspan x="531" dy="3.9">NE</tspan></text></g>
</g>

<g id="r13">
<g id="n13_1"><rect class="t" x="3" y="475.5" width="28" height="19" rx="1.5"/><text x="17" y="484.25"><tspan x="17">Points To</tspan><tspan x="17" dy="3.9">Line</tspan></text></g>
<g id="n13_2"><ellipse class="g" cx="53" cy="485" rx="14.5" ry="8.5"/><text x="53" y="484.25"><tspan x="53">LATERAL</tspan><tspan x="53" dy="3.9">LINES</tspan></text></g>
<g id="n13_3"><rect class="t" x="74" y="475.5" width="28" height="19" rx="1.5"/><text x="88" y="482.3"><tspan x="88">Add Field -</tspan><tspan x="88" dy="3.9">'LATERAL_</tspan><tspan x="88" dy="3.9">LENGTH'</tspan></text></g>
<g id="n13_4"><ellipse class="g" cx="122" cy="485" rx="14.5" ry="8.5"/><text x="122" y="482.3"><tspan x="122">Output</tspan><tspan x="122" dy="3.9">Feature</tspan><tspan x="122" dy="3.9">Class</tspan></text></g>
<g id="n13_5"><rect class="t" x="143" y="472.5" width="28" height="25" rx="1.5"/><text x="157" y="482.3"><tspan x="157">Calculate</tspan><tspan x="157" dy="3.9">lateral</tspan><tspan x="157" dy="3.9">length</tspan></text></g>
<g id="n13_6"><ellipse class="g" cx="195" cy="485" rx="15.5" ry="8.5"/><text x="195" y="482.3"><tspan x="195">LATERAL</tspan><tspan x="195" dy="3.9">_LINES</tspan><tspan x="195" dy="3.9">(2)</tspan></text></g>
<g id="n13_6b"><ellipse class="lb" cx="197" cy="463" rx="13" ry="8"/><text x="197" y="464.2">Maxlen</text><text class="p" x="210" y="456">P</text></g>
<g id="n13_7"><rect class="t" x="222" y="475.5" width="28" height="19" rx="1.5"/><text x="236" y="482.3"><tspan x="236">Length</tspan><tspan x="236" dy="3.9">Criteria</tspan><tspan x="236" dy="3.9">Select</tspan></text></g>
<g id="n13_7b"><ellipse class="lb" cx="236" cy="465" rx="14" ry="8.5"/><text x="236" y="464.25"><tspan x="236">Horizont</tspan><tspan x="236" dy="3.9">al Buffer</tspan></text><text class="p" x="248" y="456.5">P</text></g>
<g id="n13_8"><ellipse class="g" cx="271" cy="485" rx="14.5" ry="8.5"/><text x="271" y="482.3"><tspan x="271">LATERAL</tspan><tspan x="271" dy="3.9">L_LINES</tspan><tspan x="271" dy="3.9">_Select</tspan></text></g>
<g id="n13_8b"><ellipse class="lb" cx="268" cy="462" rx="13.5" ry="8"/><text x="268" y="461.25"><tspan x="268">Buffer</tspan><tspan x="268" dy="3.9">Radius</tspan></text><text class="p" x="283" y="455">P</text></g>
<g id="n13_9a"><rect class="t" x="294" y="451.5" width="28" height="19" rx="1.5"/><text x="308" y="462.2">Buffer</text></g>
<g id="n13_9"><rect class="t" x="294" y="475.5" width="28" height="19" rx="1.5"/><text x="308" y="486.2">Buffer (2)</text></g>
<g id="n13_10a"><ellipse class="g" cx="341" cy="461" rx="14.5" ry="8.5"/><text x="341" y="458.3"><tspan x="341">BOX_LA</tspan><tspan x="341" dy="3.9">TE_BUF</tspan><tspan x="341" dy="3.9">FER</tspan></text></g>
<g id="n13_10"><ellipse class="g" cx="342" cy="485" rx="14.5" ry="8.5"/><text x="342" y="482.3"><tspan x="342">LATERAL</tspan><tspan x="342" dy="3.9">L_LINES</tspan><tspan x="342" dy="3.9">_BU_BUF</tspan></text></g>
<g id="n13_11"><rect class="t" x="363" y="475.5" width="28" height="19" rx="1.5"/><text x="377" y="482.3"><tspan x="377">Join Point</tspan><tspan x="377" dy="3.9">Spatial to</tspan><tspan x="377" dy="3.9">laterals</tspan></text></g>
<g id="n13_12"><ellipse class="g" cx="412" cy="485" rx="14.5" ry="8.5"/><text x="412" y="482.3"><tspan x="412">LATERAL</tspan><tspan x="412" dy="3.9">LINES_B</tspan><tspan x="412" dy="3.9">uffer (2)</tspan></text></g>
<g id="n13_13"><rect class="t" x="433" y="475.5" width="28" height="19" rx="1.5"/><text x="447" y="486.2">Merge (3)</text></g>
<g id="n13_14"><ellipse class="g" cx="483" cy="485" rx="14.5" ry="8.5"/><text x="483" y="482.3"><tspan x="483">BUFFER</tspan><tspan x="483" dy="3.9">S_MERG</tspan><tspan x="483" dy="3.9">E</tspan></text></g>
<g id="n13_15"><rect class="t" x="505" y="475.5" width="28" height="19" rx="1.5"/><text x="519" y="482.3"><tspan x="519">Dissolve</tspan><tspan x="519" dy="3.9">by Field</tspan><tspan x="519" dy="3.9">Name</tspan></text></g>
<g id="n13_16"><ellipse class="g" cx="556" cy="485" rx="14.5" ry="8.5"/><text x="556" y="482.3"><tspan x="556">WELLS_</tspan><tspan x="556" dy="3.9">FIELD_D</tspan><tspan x="556" dy="3.9">ISSOLVE</tspan></text></g>
</g>

<g id="r14">
<g id="n14_1"><rect class="t" x="3" y="526.5" width="28" height="19" rx="1.5"/><text x="17" y="533.3"><tspan x="17">Add Field -</tspan><tspan x="17" dy="3.9">'FIELD_TY</tspan><tspan x="17" dy="3.9">PE'</tspan></text></g>
<g id="n14_2"><ellipse class="g" cx="49" cy="536" rx="14.5" ry="8.5"/><text x="49" y="533.3"><tspan x="49">WELLS_</tspan><tspan x="49" dy="3.9">FIELD_D</tspan><tspan x="49" dy="3.9">ISSOLVE</tspan></text></g>
<g id="n14_3"><rect class="t" x="70" y="523.5" width="28" height="25" rx="1.5"/><text x="84" y="535.25"><tspan x="84">Oil or Gas</tspan><tspan x="84" dy="3.9">field check</tspan></text></g>
<g id="n14_4"><ellipse class="g" cx="118" cy="536" rx="14.5" ry="8.5"/><text x="118" y="533.3"><tspan x="118">WELLS_</tspan><tspan x="118" dy="3.9">FIELD_D</tspan><tspan x="118" dy="3.9">ISSOLVE</tspan></text></g>
<g id="n14_5"><rect class="t" x="137" y="526.5" width="28" height="19" rx="1.5"/><text x="151" y="533.3"><tspan x="151">Add Field -</tspan><tspan x="151" dy="3.9">'FIELD_CB</tspan><tspan x="151" dy="3.9">M'</tspan></text></g>
<g id="n14_6"><ellipse class="g" cx="189" cy="536" rx="14.5" ry="8.5"/><text x="189" y="533.3"><tspan x="189">WELLS_</tspan><tspan x="189" dy="3.9">FIELD_D</tspan><tspan x="189" dy="3.9">ISSOLVE</tspan></text></g>
<g id="n14_7b"><ellipse class="b" cx="218" cy="512" rx="14" ry="8"/><text x="218" y="509.3"><tspan x="218">FIELD_G</tspan><tspan x="218" dy="3.9">AS_PRO</tspan><tspan x="218" dy="3.9">D</tspan></text></g>
<g id="n14_7"><rect class="t" x="204" y="526.5" width="28" height="19" rx="1.5"/><text x="218" y="535.25"><tspan x="218">Join gas</tspan><tspan x="218" dy="3.9">production</tspan></text></g>
<g id="n14_8"><ellipse class="g" cx="251" cy="536" rx="14.5" ry="8.5"/><text x="251" y="533.3"><tspan x="251">WELLS_</tspan><tspan x="251" dy="3.9">FIELD_D</tspan><tspan x="251" dy="3.9">ISSOLVE</tspan></text></g>
<g id="n14_9"><rect class="t" x="270" y="523.5" width="28" height="25" rx="1.5"/><text x="284" y="533.3"><tspan x="284">CBM</tspan><tspan x="284" dy="3.9">designatio</tspan><tspan x="284" dy="3.9">n gas</tspan></text></g>
<g id="n14_10"><ellipse class="g" cx="317" cy="536" rx="14.5" ry="8.5"/><text x="317" y="533.3"><tspan x="317">WELLS_</tspan><tspan x="317" dy="3.9">FIELD_D</tspan><tspan x="317" dy="3.9">ISSOLVE</tspan></text></g>
</g>

<g id="r15">
<g id="n15_1b"><ellipse class="b" cx="15.5" cy="566" rx="13.5" ry="8"/><text x="15.5" y="563.3"><tspan x="15.5">WELL_DE</tspan><tspan x="15.5" dy="3.9">SIGNATIO</tspan><tspan x="15.5" dy="3.9">N</tspan></text></g>
<g id="n15_1"><rect class="t" x="2" y="577.5" width="28" height="19" rx="1.5"/><text x="16" y="584.3"><tspan x="16">Join WELL</tspan><tspan x="16" dy="3.9">designatio</tspan><tspan x="16" dy="3.9">ns</tspan></text></g>
<g id="n15_2"><ellipse class="g" cx="51" cy="587" rx="14.5" ry="8.5"/><text x="51" y="584.3"><tspan x="51">WELLS_</tspan><tspan x="51" dy="3.9">FIELD_D</tspan><tspan x="51" dy="3.9">ISSOLVE</tspan></text></g>
<g id="n15_3b"><ellipse class="b" cx="88" cy="566" rx="13.5" ry="8"/><text x="88" y="563.3"><tspan x="88">designa</tspan><tspan x="88" dy="3.9">tion_Gas</tspan><tspan x="88" dy="3.9">wells</tspan></text></g>
<g id="n15_3"><rect class="t" x="74" y="577.5" width="28" height="19" rx="1.5"/><text x="88" y="584.3"><tspan x="88">Join</tspan><tspan x="88" dy="3.9">designatio</tspan><tspan x="88" dy="3.9">n Gas</tspan></text></g>
<g id="n15_4"><ellipse class="g" cx="121" cy="587" rx="14.5" ry="8.5"/><text x="121" y="584.3"><tspan x="121">WELLS_</tspan><tspan x="121" dy="3.9">FIELD_D</tspan><tspan x="121" dy="3.9">ISSOLVE</tspan></text></g>
<g id="n15_5"><rect class="t" x="140" y="577.5" width="28" height="19" rx="1.5"/><text x="154" y="584.3"><tspan x="154">CBM</tspan><tspan x="154" dy="3.9">correction</tspan><tspan x="154" dy="3.9">s</tspan></text></g>
<g id="n15_6"><ellipse class="g" cx="189" cy="587" rx="14.5" ry="8.5"/><text x="189" y="584.3"><tspan x="189">WELLS_</tspan><tspan x="189" dy="3.9">FIELD_D</tspan><tspan x="189" dy="3.9">ISSOLVE</tspan></text></g>
<g id="n15_7"><rect class="t" x="209" y="577.5" width="28" height="19" rx="1.5"/><text x="223" y="584.3"><tspan x="223">Oil</tspan><tspan x="223" dy="3.9">correction</tspan><tspan x="223" dy="3.9">s</tspan></text></g>
<g id="n15_8"><ellipse class="g" cx="257" cy="587" rx="14.5" ry="8.5"/><text x="257" y="584.3"><tspan x="257">WELLS_</tspan><tspan x="257" dy="3.9">FIELD_D</tspan><tspan x="257" dy="3.9">ISSOLVE</tspan></text></g>
<g id="n15_9"><rect class="t" x="276" y="577.5" width="28" height="19" rx="1.5"/><text x="290" y="584.3"><tspan x="290">Add Field -</tspan><tspan x="290" dy="3.9">'DESIGNAT</tspan><tspan x="290" dy="3.9">ION_LABEL'</tspan></text></g>
<g id="n15_10"><ellipse class="g" cx="322" cy="587" rx="14.5" ry="8.5"/><text x="322" y="584.3"><tspan x="322">WELLS_</tspan><tspan x="322" dy="3.9">FIELD_D</tspan><tspan x="322" dy="3.9">ISSOLVE</tspan></text></g>
<g id="n15_11"><rect class="t" x="344" y="577.5" width="28" height="19" rx="1.5"/><text x="358" y="584.3"><tspan x="358">Calculate</tspan><tspan x="358" dy="3.9">Designation</tspan><tspan x="358" dy="3.9">values</tspan></text></g>
<g id="n15_12"><ellipse class="g" cx="396" cy="587" rx="14.5" ry="8.5"/><text x="396" y="584.3"><tspan x="396">WELLS_</tspan><tspan x="396" dy="3.9">FIELD_D</tspan><tspan x="396" dy="3.9">ISSOLVE</tspan></text></g>
</g>
</svg>
